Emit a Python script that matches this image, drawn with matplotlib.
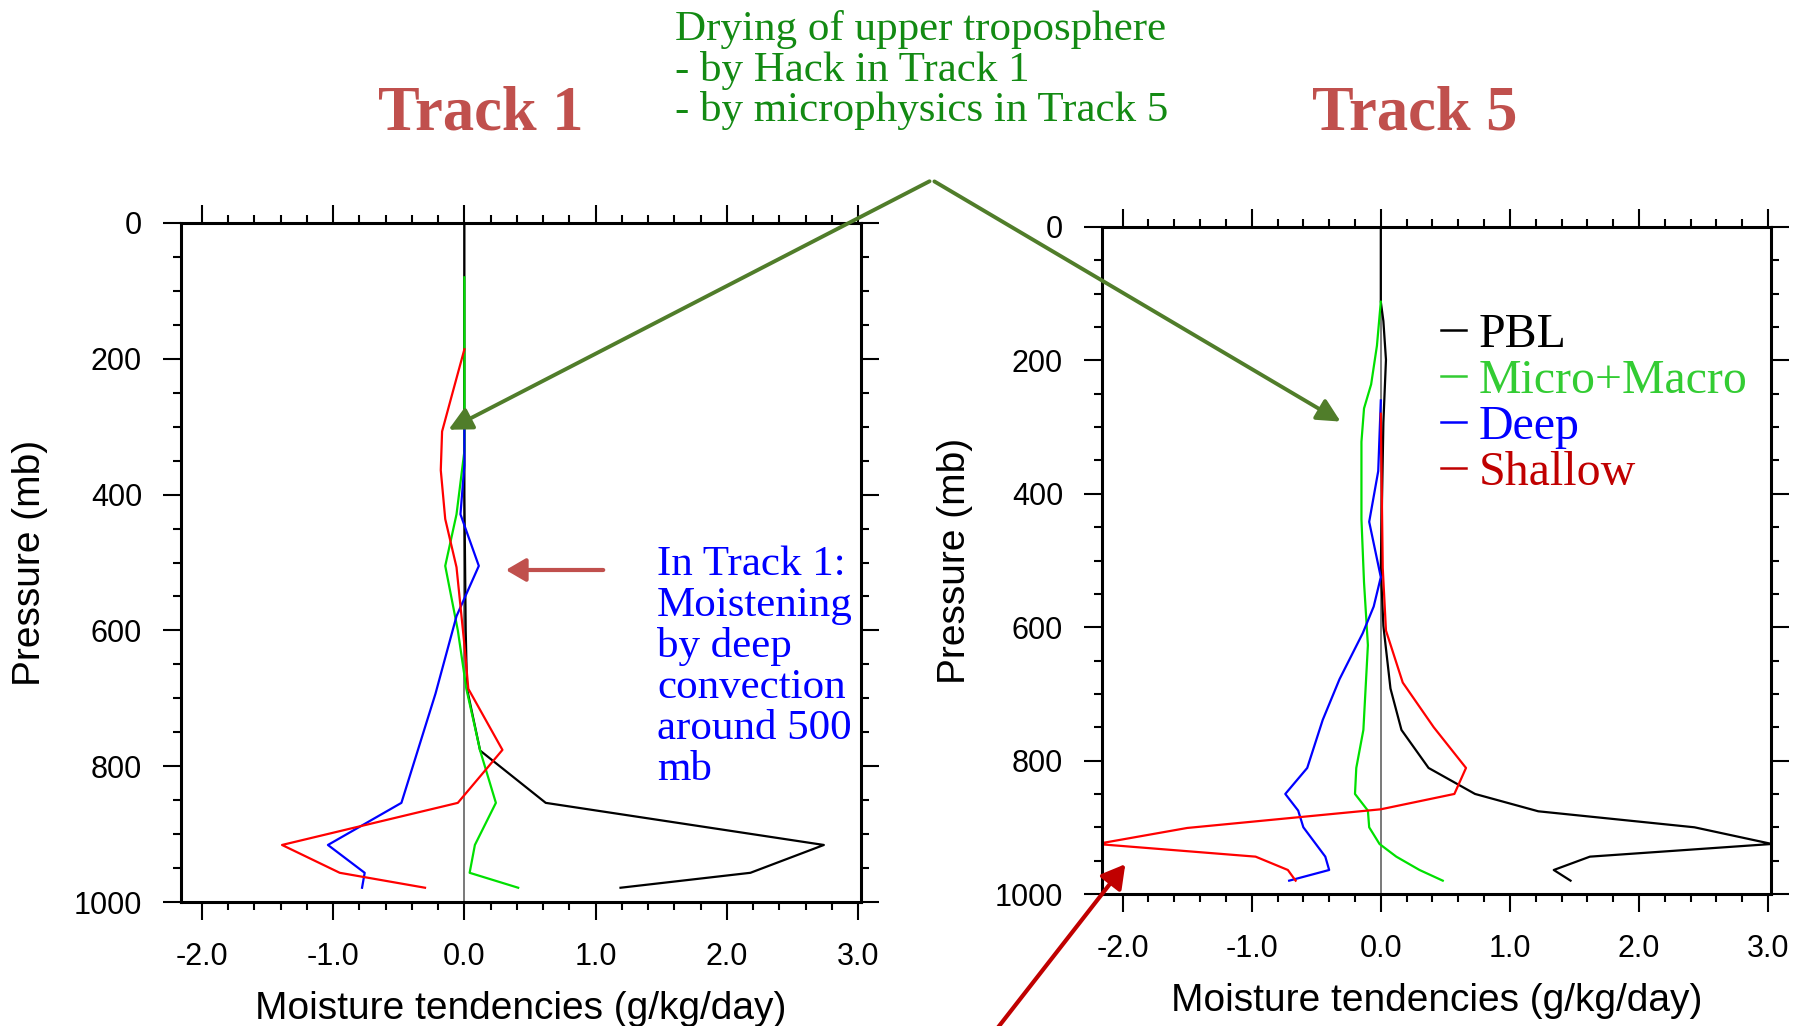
import matplotlib
matplotlib.use("Agg")
import matplotlib.pyplot as plt
from matplotlib.patches import FancyArrowPatch

# ---- data (pressure in mb, tendencies in g/kg/day) ----
series_names = ["PBL", "Micro+Macro", "Deep", "Shallow"]
line_colors = ["#000000", "#00e000", "#0000ff", "#ff0000"]
legend_text_colors = ["#000000", "#33cc33", "#0000ff", "#c00000"]

# Track 1
t1_pbl_p = [0, 100, 200, 300, 400, 500, 600, 686, 777, 854, 916, 957, 979]
t1_pbl_q = [0, 0, 0, 0, 0, 0.005, 0.01, 0.02, 0.12, 0.62, 2.74, 2.18, 1.19]
t1_micro_p = [80, 200, 336, 429, 505, 600, 686, 777, 854, 916, 957, 979]
t1_micro_q = [0, 0, 0, -0.06, -0.146, -0.05, 0.015, 0.12, 0.24, 0.08, 0.04, 0.41]
t1_deep_p = [300, 357, 429, 505, 579, 693, 854, 916, 957, 979]
t1_deep_q = [0, 0, -0.03, 0.11, -0.06, -0.22, -0.48, -1.04, -0.76, -0.78]
t1_shal_p = [186, 257, 307, 364, 436, 507, 621, 686, 776, 854, 916, 957, 979]
t1_shal_q = [0, -0.10, -0.17, -0.18, -0.146, -0.06, 0, 0.03, 0.29, -0.05, -1.39, -0.95, -0.30]

# Track 5
t5_pbl_p = [0, 112, 141, 199, 293, 402, 511, 598, 692, 754, 811, 850, 876, 900, 925, 944, 964, 980]
t5_pbl_q = [0, 0, 0.02, 0.04, 0.02, 0.01, 0, 0.02, 0.075, 0.16, 0.37, 0.73, 1.22, 2.43, 3.03, 1.62, 1.34, 1.47]
t5_micro_p = [112, 178, 236, 272, 322, 438, 533, 627, 754, 811, 850, 875, 900, 925, 944, 964, 980]
t5_micro_q = [0, -0.03, -0.075, -0.13, -0.15, -0.15, -0.13, -0.10, -0.135, -0.19, -0.20, -0.10, -0.09, -0.01, 0.12, 0.30, 0.48]
t5_deep_p = [260, 366, 442, 525, 569, 609, 678, 739, 811, 850, 875, 900, 944, 964, 980]
t5_deep_q = [0, -0.02, -0.09, 0, -0.055, -0.14, -0.32, -0.45, -0.57, -0.74, -0.64, -0.60, -0.43, -0.40, -0.71]
t5_shal_p = [280, 511, 605, 683, 750, 811, 850, 873, 901, 925, 944, 964, 980]
t5_shal_q = [0, 0.015, 0.04, 0.17, 0.41, 0.66, 0.57, 0, -1.5, -2.2, -0.97, -0.72, -0.66]

xticks = [-2, -1, 0, 1, 2, 3]
xtick_labels = ["-2.0", "-1.0", "0.0", "1.0", "2.0", "3.0"]
yticks = [0, 200, 400, 600, 800, 1000]

blue_note = ["In Track 1:", "Moistening", "by deep", "convection", "around 500", "mb"]
green_note = ["Drying of upper troposphere", "- by Hack in Track 1", "- by microphysics in Track 5"]

SERIF = ["Liberation Serif", "DejaVu Serif"]
SANS = ["Liberation Sans", "DejaVu Sans"]

W, H = 1800, 1026
fig = plt.figure(figsize=(18, 10.26), dpi=100)


def fx(px):
    return px / W


def fy(py):
    return 1 - py / H


def make_panel(rect_px, profiles, ylabel_right):
    left, top, right, bottom = rect_px
    ax = fig.add_axes([fx(left), fy(bottom), fx(right - left), (bottom - top) / H])
    ax.axvline(0, color="#555555", lw=1.1, zorder=1)
    for (p, q), c in zip(profiles, line_colors):
        ax.plot(q, p, color=c, lw=1.6, zorder=2)
    ax.set_xlim(-2.16, 3.023)
    ax.set_ylim(1000, 0)
    ax.set_xticks(xticks)
    ax.set_xticklabels(xtick_labels, fontsize=22, family=SANS)
    ax.set_xticks([v / 10 for v in range(-20, 31, 2)], minor=True)
    ax.set_yticks(yticks)
    ax.set_yticklabels([str(v) for v in yticks], fontsize=22, family=SANS)
    ax.set_yticks(range(0, 1001, 50), minor=True)
    ax.tick_params(which="both", direction="out", top=True, right=True, width=1.5)
    ax.tick_params(which="major", length=13)
    ax.tick_params(which="minor", length=6)
    ax.tick_params(axis="x", which="major", pad=16)
    ax.tick_params(axis="y", which="major", pad=15)
    for s in ax.spines.values():
        s.set_linewidth(2.2)
    ax.set_xlabel("Moisture tendencies (g/kg/day)", fontsize=28, family=SANS)
    ax.set_ylabel("Pressure (mb)", fontsize=28, family=SANS)
    ax.xaxis.set_label_coords(0.5, -89 / (bottom - top))
    ax.yaxis.set_label_coords(-(left - ylabel_right) / (right - left), 0.5)
    return ax


ax1 = make_panel((181, 223, 861, 902),
                 [(t1_pbl_p, t1_pbl_q), (t1_micro_p, t1_micro_q),
                  (t1_deep_p, t1_deep_q), (t1_shal_p, t1_shal_q)], 48)
ax2 = make_panel((1102, 227, 1771, 894),
                 [(t5_pbl_p, t5_pbl_q), (t5_micro_p, t5_micro_q),
                  (t5_deep_p, t5_deep_q), (t5_shal_p, t5_shal_q)], 973)

# legend of right panel
for i, (name, tc) in enumerate(zip(series_names, legend_text_colors)):
    base = 347 + i * 46
    fig.add_artist(plt.Line2D([fx(1441), fx(1466)], [fy(base - 17)] * 2, color=tc, lw=1.8))
    fig.text(fx(1479), fy(base), name, color=tc, fontsize=34.5, family=SERIF, va="baseline")

# titles
fig.text(fx(481), fy(130), "Track 1", color="#c0504d", fontsize=45, fontweight="bold",
         family=SERIF, ha="center", va="baseline")
fig.text(fx(1415), fy(130), "Track 5", color="#c0504d", fontsize=45, fontweight="bold",
         family=SERIF, ha="center", va="baseline")

# green note and arrows
for i, line in enumerate(green_note):
    fig.text(fx(675), fy(40 + i * 40.5), line, color="#138a13", fontsize=31, family=SERIF,
             va="baseline")
for tip in [(446, 431), (1343, 423)]:
    fig.add_artist(FancyArrowPatch((fx(932), fy(180)), (fx(tip[0]), fy(tip[1])),
                                   transform=fig.transFigure,
                                   arrowstyle="-|>,head_length=0.7,head_width=0.35",
                                   mutation_scale=20, color="#507d2a", lw=2.8))

# blue note and arrow
for i, line in enumerate(blue_note):
    fig.text(fx(657), fy(575 + i * 41), line, color="#0000ff", fontsize=31, family=SERIF,
             va="baseline")
fig.add_artist(FancyArrowPatch((fx(606), fy(570)), (fx(503), fy(570)),
                               transform=fig.transFigure,
                               arrowstyle="-|>,head_length=0.6,head_width=0.35",
                               mutation_scale=20, color="#c0504d", lw=3))

# dark red arrow pointing at Track 5 shallow minimum
fig.add_artist(FancyArrowPatch((fx(996), fy(1030)), (fx(1127), fy(862)),
                               transform=fig.transFigure,
                               arrowstyle="-|>,head_length=0.7,head_width=0.4",
                               mutation_scale=20, color="#c00000", lw=3))

fig.savefig("out.png", dpi=100, facecolor="white")
